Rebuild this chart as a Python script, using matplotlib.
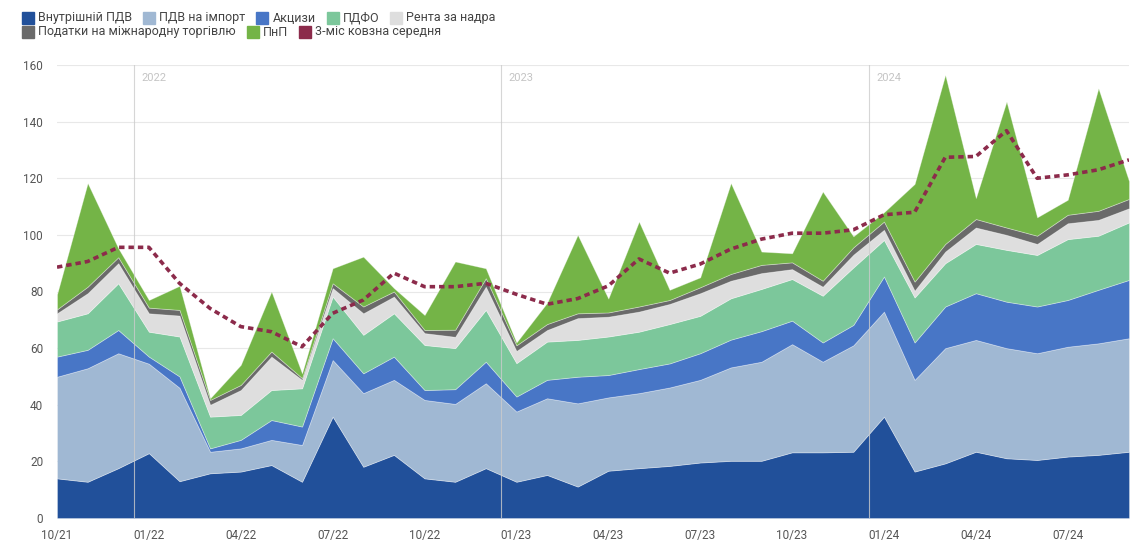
import numpy as np
import matplotlib.pyplot as plt
from matplotlib.patches import Rectangle

months = ["10/21", "11/21", "12/21", "01/22", "02/22", "03/22", "04/22", "05/22", "06/22",
          "07/22", "08/22", "09/22", "10/22", "11/22", "12/22", "01/23", "02/23", "03/23",
          "04/23", "05/23", "06/23", "07/23", "08/23", "09/23", "10/23", "11/23", "12/23",
          "01/24", "02/24", "03/24", "04/24", "05/24", "06/24", "07/24", "08/24", "09/24"]

# млрд грн
vat_domestic = [14.0, 12.8, 17.6, 22.9, 13.0, 15.8, 16.4, 18.7, 12.8, 35.8, 18.1, 22.3,
                14.0, 12.8, 17.6, 12.8, 15.2, 11.1, 16.7, 17.6, 18.4, 19.6, 20.2, 20.2,
                23.2, 23.2, 23.4, 35.8, 16.4, 19.3, 23.4, 21.1, 20.5, 21.7, 22.3, 23.4]
vat_import = [35.9, 40.1, 40.6, 31.6, 33.0, 7.6, 8.2, 8.9, 13.0, 20.0, 26.0, 26.5,
              27.7, 27.5, 30.0, 24.8, 27.1, 29.4, 25.9, 26.5, 27.7, 29.2, 33.0, 35.0,
              38.2, 32.0, 37.6, 37.1, 32.4, 40.7, 39.5, 38.9, 37.7, 38.8, 39.4, 40.1]
excise = [7.1, 6.5, 8.2, 2.5, 4.0, 1.2, 3.0, 7.0, 6.5, 7.7, 7.0, 8.2,
          3.5, 5.2, 7.6, 5.3, 6.5, 9.4, 7.9, 8.5, 8.5, 9.4, 9.8, 10.8,
          8.3, 6.8, 7.2, 12.4, 13.2, 14.7, 16.5, 16.4, 16.5, 16.5, 18.9, 20.6]
pdfo = [12.4, 12.9, 16.5, 8.8, 14.1, 11.2, 8.8, 10.6, 13.5, 14.7, 13.6, 15.3,
        15.9, 14.5, 18.3, 11.8, 13.5, 13.0, 13.6, 13.2, 13.9, 13.2, 14.6, 14.9,
        14.7, 16.5, 20.3, 12.9, 15.9, 15.3, 17.4, 18.3, 18.2, 21.5, 19.1, 20.3]
rent = [2.9, 7.1, 7.1, 6.5, 7.4, 4.2, 8.8, 11.8, 3.0, 3.0, 7.6, 5.9,
        4.2, 4.0, 8.2, 4.3, 4.1, 7.7, 7.0, 7.1, 7.1, 8.0, 6.2, 5.6,
        3.5, 3.2, 4.5, 3.6, 2.4, 4.1, 5.8, 5.3, 3.9, 5.6, 5.6, 5.0]
trade = [1.4, 2.3, 2.1, 2.0, 2.0, 1.7, 1.8, 1.8, 0.6, 1.7, 2.4, 1.8,
         1.1, 2.5, 3.0, 2.0, 2.1, 1.7, 1.5, 1.8, 1.4, 2.1, 2.4, 2.9,
         2.4, 2.1, 2.6, 2.9, 3.2, 2.7, 3.0, 2.6, 2.9, 3.0, 3.2, 3.3]
pnp = [5.3, 36.6, 3.2, 2.7, 8.5, 0.6, 7.1, 21.2, 1.7, 5.3, 17.6, 1.2,
       5.3, 24.1, 3.5, 1.0, 7.5, 27.7, 4.9, 30.0, 3.6, 3.5, 32.1, 4.7,
       3.2, 31.5, 3.9, 3.3, 34.5, 59.7, 7.4, 44.5, 6.5, 5.3, 43.3, 6.3]
moving_avg = [88.6, 90.6, 95.6, 95.6, 82.9, 74.0, 67.6, 65.8, 60.5, 72.3, 77.0, 86.5,
              81.7, 81.7, 82.9, 79.0, 75.5, 77.5, 82.0, 91.5, 86.5, 89.7, 95.0, 98.5,
              100.6, 100.6, 101.8, 107.1, 108.0, 127.4, 127.7, 136.8, 120.0, 121.2, 123.0, 126.5]

labels = ["Внутрішній ПДВ", "ПДВ на імпорт", "Акцизи", "ПДФО", "Рента за надра",
          "Податки на міжнародну торгівлю", "ПнП", "3-міс ковзна середня"]
colors = ["#21509a", "#a0b8d3", "#4876c6", "#7cc79b", "#dedede", "#6a6a6a", "#74b447", "#8c2b4b"]
years = ["2022", "2023", "2024"]
year_pos = [2.5, 14.5, 26.5]

plt.rcParams['font.family'] = ['Roboto', 'DejaVu Sans']

W, H = 1131, 545
fig = plt.figure(figsize=(W / 100, H / 100), dpi=100)
ax = fig.add_axes([57 / W, 27 / H, 1072 / W, 453 / H])

x = np.arange(len(months))
ax.stackplot(x, vat_domestic, vat_import, excise, pdfo, rent, trade, pnp,
             colors=colors[:7], edgecolor=(1, 1, 1, 0.35), linewidth=0.6, zorder=2)
ax.plot(x, moving_avg, color=colors[7], lw=2.6, linestyle=(0, (1.5, 1.1)), zorder=4)

for p, yr in zip(year_pos, years):
    ax.axvline(p, color="#cccccc", lw=0.8, alpha=0.8, zorder=3)
    ax.text(p + 0.25, 157, yr, color="#c4c4c4", fontsize=8, va="top", ha="left")

ax.set_xlim(0, 35)
ax.set_ylim(0, 160)
ax.set_yticks(range(0, 161, 20))
ax.set_xticks(x[::3])
ax.set_xticklabels(months[::3])
ax.grid(axis="y", color="#e8e8e8", lw=0.8, zorder=0)
ax.set_axisbelow(True)
for s in ax.spines.values():
    s.set_visible(False)
ax.tick_params(length=0, labelsize=8.5, colors="#555555")
ax.tick_params(axis="y", pad=10)
ax.tick_params(axis="x", pad=8)

# легенда у два рядки
fig.canvas.draw()
renderer = fig.canvas.get_renderer()
rows = [[0, 1, 2, 3, 4], [5, 6, 7]]
row_y = [H - 18, H - 32]
sw = 12
for row, yc in zip(rows, row_y):
    xp = 22
    for k in row:
        fig.patches.append(Rectangle((xp / W, (yc - sw / 2) / H), sw / W, sw / H,
                                     transform=fig.transFigure, color=colors[k]))
        t = fig.text((xp + sw + 4) / W, yc / H, labels[k], fontsize=9, color="#444444",
                     va="center", ha="left")
        w = t.get_window_extent(renderer).width
        xp += sw + 4 + w + 11

fig.savefig("out.png", dpi=100)
